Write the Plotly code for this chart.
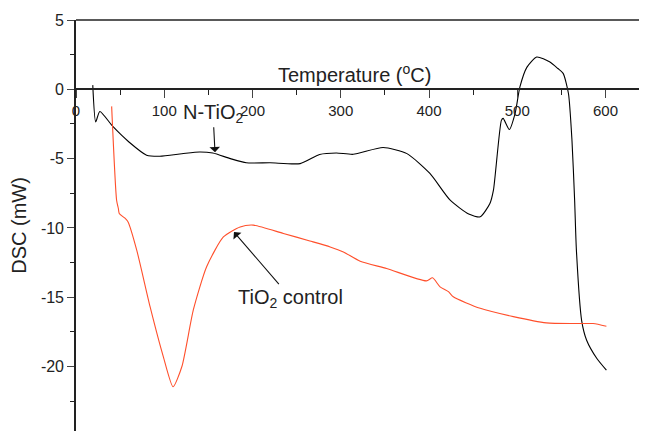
import plotly.graph_objects as go

# N-TiO2 DSC trace (temperature in C, heat flow in mW)
n_tio2_temp = [19, 22.3, 27, 42, 60, 80, 95, 120, 140, 155, 175, 193, 220, 254, 276, 295,
               314, 348, 375, 401, 424, 445, 458, 469, 473, 482, 484, 491, 497.5, 503, 511,
               522, 537, 546, 552, 558, 562, 565, 567, 573, 578.6, 590, 601]
n_tio2_dsc = [0.3, -2.35, -1.6, -2.7, -3.8, -4.75, -4.83, -4.65, -4.52, -4.6, -5.0, -5.3, -5.3,
              -5.36, -4.7, -4.59, -4.69, -4.2, -4.64, -6.07, -8.0, -9.0, -9.2, -8.24, -7.28,
              -2.24, -2.1, -2.9, -1.75, 0.17, 1.6, 2.33, 1.97, 1.5, 1.15, -0.3, -3.7, -8.0,
              -11.6, -16.7, -18.1, -19.4, -20.26]

# TiO2 control DSC trace
tio2_temp = [40.4, 46, 48, 49, 55.5, 59, 68.8, 84, 99, 110, 120, 133, 148, 167, 186, 201,
             235, 265, 288, 303, 322, 352, 397, 404, 412.5, 422, 427.5, 458, 495.5, 533,
             563.5, 586, 601]
tio2_dsc = [-1.23, -8.0, -8.6, -8.96, -9.3, -9.57, -11.6, -15.7, -19.3, -21.46, -20.0, -15.9,
            -12.8, -10.65, -9.93, -9.8, -10.4, -10.94, -11.37, -11.73, -12.4, -12.93, -13.82,
            -13.6, -14.25, -14.6, -14.97, -15.8, -16.4, -16.85, -16.9, -16.9, -17.1]

x_ticks = [0, 100, 200, 300, 400, 500, 600]
y_ticks = [-25, -20, -15, -10, -5, 0, 5]
y_tick_labels = ["-25", "-20", "-15", "-10", "-5", "0", "5"]

font = "Liberation Sans, Arial, sans-serif"

fig = go.Figure()
fig.add_trace(go.Scatter(x=n_tio2_temp, y=n_tio2_dsc, mode="lines",
                         line=dict(color="black", width=1.1, shape="spline", smoothing=0.6)))
fig.add_trace(go.Scatter(x=tio2_temp, y=tio2_dsc, mode="lines",
                         line=dict(color="#ff4f2b", width=1.1, shape="spline", smoothing=0.6)))

# the reference crops the frame just below -25, so the visible range stops a bit above it
y_min, y_max = -24.65, 5
# page body has an 8px margin, so the figure is shifted by 8px and kept inside the window
fig.update_layout(
    width=639, height=423,
    margin=dict(l=68, r=0, t=12, b=0),
    paper_bgcolor="white", plot_bgcolor="white",
    showlegend=False,
    font=dict(family=font, size=15, color="#222"),
    xaxis=dict(range=[0, 647], tickvals=x_ticks, ticks="outside", ticklen=8, tickwidth=1.3,
               showline=True, linewidth=1.6, linecolor="#222", showgrid=False, zeroline=False,
               anchor="free", position=(0 - y_min) / (y_max - y_min), automargin=False,
               minor=dict(tickvals=[50, 150, 250, 350, 450, 550], ticks="outside",
                          ticklen=5, tickwidth=1.3, tickcolor="#222"),
               tickfont=dict(size=15)),
    yaxis=dict(range=[y_min, y_max], tickvals=y_ticks, ticktext=y_tick_labels,
               ticks="outside", ticklen=7, tickwidth=1.3, automargin=False,
               showline=True, linewidth=1.6, linecolor="#222", showgrid=False, zeroline=False,
               minor=dict(dtick=2.5, ticks="outside", ticklen=4, tickwidth=1.3, tickcolor="#222"),
               title=dict(text="DSC (mW)", font=dict(size=20), standoff=12),
               tickfont=dict(size=16)),
)

# frame line at the top of the plot area
fig.add_shape(type="line", xref="paper", yref="paper", x0=0, x1=1, y0=1, y1=1,
              line=dict(color="#222", width=1.3))

fig.add_annotation(x=316, y=1.15, text="Temperature (<sup>o</sup>C)", showarrow=False,
                   font=dict(size=20, family=font, color="#222"))
fig.add_annotation(x=157.5, y=-4.54, text="N-TiO<sub>2</sub>", showarrow=True,
                   arrowhead=1, arrowsize=1.6, arrowwidth=1.1, arrowcolor="#111",
                   ax=-2, ay=-39, font=dict(size=20, family=font, color="#222"))
fig.add_annotation(x=179, y=-10.3, text="TiO<sub>2</sub> control", showarrow=True,
                   arrowhead=1, arrowsize=1.6, arrowwidth=1.1, arrowcolor="#111",
                   ax=57, ay=66, font=dict(size=20, family=font, color="#222"))

fig.write_html("out.html")
